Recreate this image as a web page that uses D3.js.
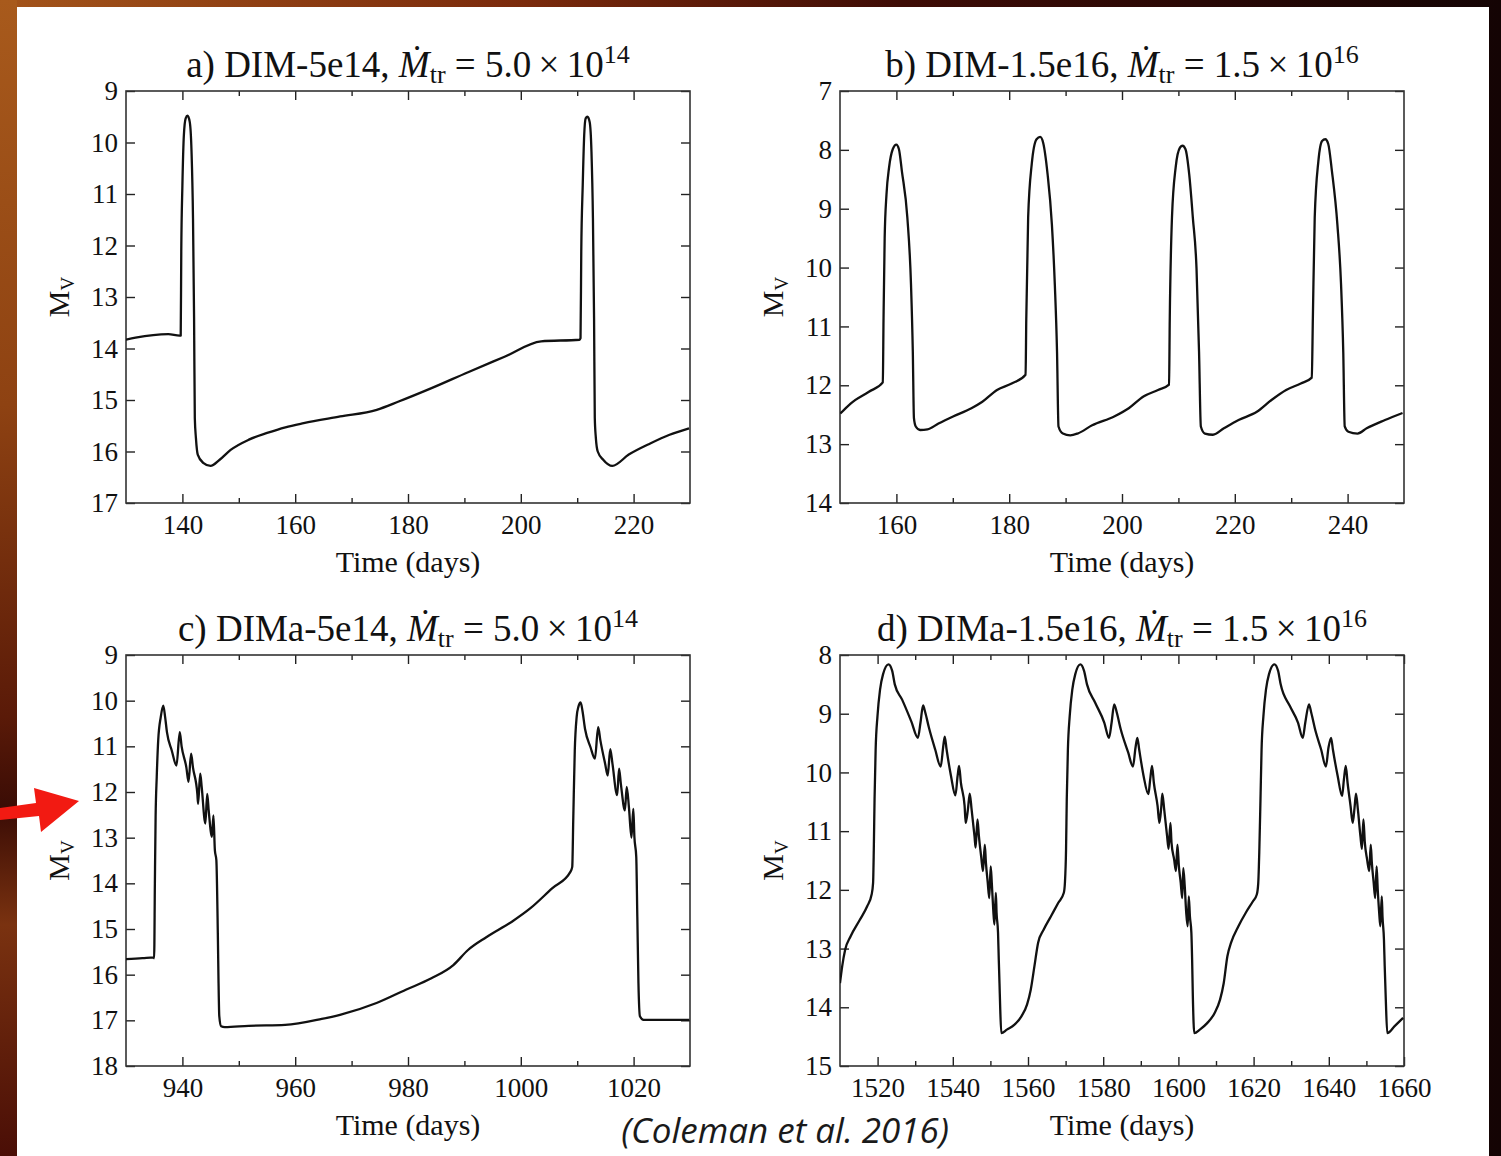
<!DOCTYPE html>
<html>
<head>
<meta charset="utf-8">
<script src="https://cdn.jsdelivr.net/npm/d3@7"></script>
<style>
  body { margin: 0; background: #000; }
  svg { display: block; }
</style>
</head>
<body>
<script>
// light curves: [time (days), M_V]
const lcA = [
  [130.0, 13.83], [131.7, 13.79], [137.5, 13.72], [139.5, 13.75], [139.7, 13.75],
  [139.8, 12.12], [140.0, 10.83], [140.26, 9.86], [140.58, 9.53], [140.91, 9.48],
  [141.3, 9.6], [141.62, 10.18], [141.88, 11.47], [142.07, 13.41], [142.2, 15.35],
  [142.4, 15.74], [142.72, 16.06], [143.69, 16.22], [144.99, 16.28], [146.61, 16.16],
  [148.55, 15.97], [151.79, 15.77], [155.02, 15.64], [158.26, 15.53], [161.5, 15.45],
  [167.98, 15.32], [174.46, 15.19], [178.34, 15.03], [184.17, 14.77], [190.65, 14.46],
  [197.12, 14.16], [203.6, 13.86], [210.4, 13.83], [210.59, 13.8], [210.72, 12.12],
  [210.98, 10.83], [211.24, 9.86], [211.5, 9.53], [211.82, 9.5], [212.21, 9.6],
  [212.53, 10.18], [212.79, 11.47], [212.99, 13.41], [213.12, 15.35], [213.31, 15.74],
  [213.64, 16.0], [214.61, 16.16], [216.23, 16.28], [219.14, 16.06], [223.03, 15.84],
  [226.27, 15.68], [229.83, 15.55]
];

const lcB = [
  [150.06, 12.48], [151.88, 12.31], [155.13, 12.11], [157.59, 11.95], [157.72, 10.86],
  [157.92, 9.5], [158.24, 8.76], [158.7, 8.3], [159.35, 7.99], [159.99, 7.91],
  [160.45, 7.99], [160.97, 8.36], [161.94, 9.15], [162.59, 10.29], [162.91, 11.43],
  [163.11, 12.56], [163.43, 12.7], [164.21, 12.76], [165.51, 12.75], [167.46, 12.65],
  [170.05, 12.53], [173.3, 12.39], [175.24, 12.28], [177.84, 12.08], [180.43, 11.97],
  [182.9, 11.82], [183.03, 10.86], [183.36, 9.15], [184.0, 8.24], [184.85, 7.82],
  [185.5, 7.78], [186.02, 7.88], [186.8, 8.41], [187.57, 9.27], [188.09, 10.29],
  [188.48, 11.43], [188.74, 12.7], [189.52, 12.82], [190.82, 12.85], [192.12, 12.82],
  [194.71, 12.68], [198.61, 12.53], [201.2, 12.39], [203.8, 12.19], [206.39, 12.08],
  [208.34, 11.99], [208.47, 10.86], [208.86, 9.15], [209.51, 8.3], [210.29, 7.96],
  [210.74, 7.93], [211.26, 7.99], [211.91, 8.41], [212.56, 9.15], [213.21, 10.01],
  [213.66, 11.43], [213.98, 12.7], [214.7, 12.82], [216.13, 12.84], [218.07, 12.73],
  [220.67, 12.59], [223.91, 12.45], [226.51, 12.25], [229.1, 12.08], [231.7, 11.97],
  [233.65, 11.87], [233.84, 10.86], [234.17, 9.15], [234.82, 8.19], [235.47, 7.85],
  [236.05, 7.82], [236.57, 7.9], [237.22, 8.36], [238.19, 9.27], [238.84, 10.29],
  [239.23, 11.43], [239.49, 12.7], [240.14, 12.79], [241.76, 12.82], [243.38, 12.73],
  [246.63, 12.59], [249.74, 12.47]
];

const lcC = [
  [930.0, 15.66], [932.92, 15.64], [934.86, 15.62], [934.99, 15.64], [935.12, 14.0],
  [935.25, 12.55], [935.45, 11.67], [935.71, 10.87], [936.16, 10.36], [936.61, 10.11],
  [936.94, 10.36], [937.26, 10.69], [938.11, 11.09], [938.95, 11.42], [939.53, 10.69],
  [939.86, 11.0], [940.7, 11.46], [941.09, 11.78], [941.54, 11.16], [941.87, 11.46],
  [942.65, 12.04], [942.78, 12.26], [943.16, 11.6], [943.42, 11.89], [944.07, 12.69],
  [944.4, 12.04], [944.66, 12.4], [945.24, 12.98], [945.5, 12.51], [945.76, 13.28],
  [946.02, 13.49], [946.28, 15.09], [946.41, 16.19], [946.54, 16.91], [946.86, 17.13],
  [947.51, 17.15], [951.73, 17.12], [958.21, 17.1], [964.7, 16.97], [967.94, 16.88],
  [974.42, 16.62], [979.61, 16.33], [984.15, 16.08], [988.04, 15.79], [990.64, 15.46],
  [993.88, 15.18], [998.42, 14.84], [1001.66, 14.55], [1005.55, 14.11], [1008.79, 13.75],
  [1009.12, 13.64], [1009.31, 12.55], [1009.57, 11.09], [1009.9, 10.36], [1010.22, 10.13],
  [1010.61, 10.04], [1010.93, 10.22], [1011.39, 10.62], [1012.36, 11.02], [1013.14, 11.27],
  [1013.72, 10.58], [1014.11, 10.87], [1014.95, 11.38], [1015.41, 11.64], [1015.86, 11.06],
  [1016.25, 11.38], [1017.09, 12.07], [1017.42, 11.49], [1017.74, 11.82], [1018.46, 12.4],
  [1018.78, 11.89], [1019.17, 12.33], [1019.62, 13.0], [1019.95, 12.37], [1020.14, 12.98],
  [1020.47, 13.42], [1020.66, 14.73], [1020.86, 16.19], [1021.12, 16.91], [1021.77, 16.99],
  [1023.06, 16.99], [1029.87, 16.99]
];

const lcD = [
  [1510.0, 13.59], [1510.59, 13.3], [1511.37, 13.02], [1512.83, 12.79], [1515.28, 12.51],
  [1517.23, 12.28], [1518.41, 12.08], [1518.8, 11.88], [1518.99, 11.31], [1519.19, 10.46],
  [1519.48, 9.61], [1519.97, 9.04], [1520.65, 8.59], [1521.44, 8.33], [1522.9, 8.16],
  [1523.88, 8.27], [1524.57, 8.5], [1526.52, 8.76], [1528.96, 9.13], [1530.72, 9.41],
  [1531.41, 9.15], [1532.09, 8.86], [1532.68, 8.98], [1533.66, 9.24], [1535.32, 9.61],
  [1536.78, 9.9], [1537.47, 9.55], [1537.86, 9.39], [1538.35, 9.61], [1539.52, 10.06],
  [1540.69, 10.39], [1541.28, 10.06], [1541.67, 9.89], [1542.16, 10.18], [1543.14, 10.57],
  [1543.43, 10.86], [1544.02, 10.63], [1544.51, 10.36], [1545.0, 10.63], [1545.78, 11.09],
  [1546.07, 11.28], [1546.56, 10.8], [1546.95, 11.09], [1547.54, 11.43], [1548.03, 11.68],
  [1548.51, 11.23], [1548.81, 11.54], [1549.3, 11.88], [1549.69, 12.14], [1550.08, 11.6],
  [1550.37, 11.88], [1550.76, 12.34], [1551.06, 12.59], [1551.45, 12.05], [1551.64, 12.39],
  [1552.03, 12.73], [1552.23, 13.19], [1552.42, 13.59], [1552.62, 14.04], [1552.91, 14.44],
  [1554.38, 14.38], [1556.33, 14.3], [1558.29, 14.15], [1559.76, 13.95], [1560.73, 13.7],
  [1561.71, 13.3], [1562.69, 12.9], [1564.15, 12.68], [1566.11, 12.45], [1568.06, 12.22],
  [1569.53, 12.05], [1569.82, 11.88], [1570.12, 11.31], [1570.31, 10.46], [1570.61, 9.61],
  [1571.09, 9.04], [1571.78, 8.59], [1572.56, 8.33], [1573.93, 8.16], [1574.91, 8.27],
  [1575.69, 8.5], [1577.84, 8.81], [1580.28, 9.15], [1581.55, 9.41], [1582.24, 9.15],
  [1582.92, 8.84], [1583.61, 8.98], [1584.68, 9.27], [1586.64, 9.66], [1587.91, 9.9],
  [1588.59, 9.58], [1589.08, 9.41], [1589.57, 9.61], [1590.74, 10.06], [1592.01, 10.37],
  [1592.5, 10.12], [1592.99, 9.89], [1593.48, 10.18], [1594.46, 10.57], [1594.95, 10.86],
  [1595.43, 10.6], [1595.73, 10.36], [1596.22, 10.63], [1597.0, 11.09], [1597.39, 11.3],
  [1597.88, 10.86], [1598.17, 11.2], [1598.86, 11.48], [1599.35, 11.68], [1599.74, 11.23],
  [1600.13, 11.6], [1600.62, 11.88], [1601.01, 12.14], [1601.3, 11.63], [1601.69, 11.94],
  [1602.08, 12.39], [1602.47, 12.62], [1602.77, 12.11], [1603.06, 12.45], [1603.45, 12.73],
  [1603.65, 13.19], [1603.84, 13.81], [1604.23, 14.44], [1605.7, 14.38], [1607.65, 14.27],
  [1609.61, 14.1], [1611.08, 13.87], [1612.05, 13.59], [1613.03, 13.13], [1614.01, 12.9],
  [1615.96, 12.62], [1617.92, 12.39], [1619.87, 12.19], [1620.85, 12.08], [1621.24, 11.88],
  [1621.53, 11.31], [1621.83, 10.46], [1622.12, 9.61], [1622.61, 9.04], [1623.29, 8.59],
  [1624.08, 8.33], [1625.54, 8.16], [1626.52, 8.27], [1627.2, 8.5], [1629.65, 8.87],
  [1631.8, 9.15], [1633.07, 9.41], [1633.75, 9.15], [1634.73, 8.84], [1635.32, 8.98],
  [1636.49, 9.3], [1637.96, 9.61], [1639.23, 9.9], [1639.91, 9.58], [1640.6, 9.41],
  [1641.09, 9.61], [1642.36, 10.06], [1643.53, 10.4], [1644.02, 10.12], [1644.51, 9.89],
  [1645.0, 10.18], [1645.78, 10.57], [1646.36, 10.86], [1646.85, 10.6], [1647.24, 10.36],
  [1647.73, 10.63], [1648.42, 11.09], [1648.81, 11.3], [1649.2, 10.8], [1649.59, 11.2],
  [1650.18, 11.48], [1650.76, 11.68], [1651.15, 11.23], [1651.45, 11.54], [1651.94, 11.88],
  [1652.33, 12.14], [1652.72, 11.6], [1653.01, 11.99], [1653.4, 12.39], [1653.7, 12.62],
  [1654.09, 12.11], [1654.28, 12.45], [1654.67, 12.85], [1654.87, 13.3], [1655.16, 13.87],
  [1655.55, 14.44], [1657.51, 14.32], [1659.76, 14.18]
];

// axes
const xTicksA = [140, 160, 180, 200, 220];
const xMinorA = [150, 170, 190, 210];
const xTicksB = [160, 180, 200, 220, 240];
const xMinorB = [170, 190, 210, 230];
const xTicksC = [940, 960, 980, 1000, 1020];
const xMinorC = [950, 970, 990, 1010];
const xTicksD = [1520, 1540, 1560, 1580, 1600, 1620, 1640, 1660];
const xMinorD = [1530, 1550, 1570, 1590, 1610, 1630, 1650];
const yTicksA = [9, 10, 11, 12, 13, 14, 15, 16, 17];
const yTicksB = [7, 8, 9, 10, 11, 12, 13, 14];
const yTicksC = [9, 10, 11, 12, 13, 14, 15, 16, 17, 18];
const yTicksD = [8, 9, 10, 11, 12, 13, 14, 15];

const titleNames = ["a) DIM-5e14, ", "b) DIM-1.5e16, ", "c) DIMa-5e14, ", "d) DIMa-1.5e16, "];
const titleCoefs = ["5.0", "1.5", "5.0", "1.5"];
const titleExps = ["14", "16", "14", "16"];

const W = 1501, H = 1156;
const serif = '"Liberation Serif", "DejaVu Serif", serif';

const panels = [
  { id: "a", data: lcA, xDomain: [130, 230], yDomain: [9, 17], xMajor: xTicksA, xMinor: xMinorA, yTicks: yTicksA, box: [126, 91, 690, 503] },
  { id: "b", data: lcB, xDomain: [150, 250], yDomain: [7, 14], xMajor: xTicksB, xMinor: xMinorB, yTicks: yTicksB, box: [840, 91, 1404, 503] },
  { id: "c", data: lcC, xDomain: [930, 1030], yDomain: [9, 18], xMajor: xTicksC, xMinor: xMinorC, yTicks: yTicksC, box: [126, 655, 690, 1066] },
  { id: "d", data: lcD, xDomain: [1510, 1660], yDomain: [8, 15], xMajor: xTicksD, xMinor: xMinorD, yTicks: yTicksD, box: [840, 655, 1404, 1066] },
];

const svg = d3.select("body").append("svg").attr("width", W).attr("height", H);
const defs = svg.append("defs");

// slide background
const bgH = defs.append("linearGradient").attr("id", "bgH").attr("x1", 0).attr("x2", 1).attr("y1", 0).attr("y2", 0);
[[0, "#a3541a"], [0.35, "#7a2a0c"], [0.6, "#3e0c06"], [1, "#140404"]].forEach(([o, c]) =>
  bgH.append("stop").attr("offset", o).attr("stop-color", c));
const bgV = defs.append("linearGradient").attr("id", "bgV").attr("x1", 0).attr("x2", 0).attr("y1", 0).attr("y2", 1);
[[0, "#a85a1c"], [0.35, "#8e4212"], [0.62, "#5a1a08"], [0.7, "#3a0c05"], [0.8, "#7a3210"], [1, "#4a0e06"]].forEach(([o, c]) =>
  bgV.append("stop").attr("offset", o).attr("stop-color", c));

svg.append("rect").attr("width", W).attr("height", H).attr("fill", "url(#bgH)");
svg.append("rect").attr("width", 17).attr("height", H).attr("fill", "url(#bgV)");
svg.append("rect").attr("x", 17).attr("y", 7).attr("width", 1472).attr("height", H - 7).attr("fill", "#fff");

panels.forEach((p, i) => drawPanel(p, i));

function drawPanel(p, i) {
  const [x0, y0, x1, y1] = p.box;
  const x = d3.scaleLinear().domain(p.xDomain).range([x0, x1]);
  const y = d3.scaleLinear().domain(p.yDomain).range([y0, y1]);
  const g = svg.append("g").attr("class", "panel-" + p.id);

  defs.append("clipPath").attr("id", "clip-" + p.id)
    .append("rect").attr("x", x0).attr("y", y0).attr("width", x1 - x0).attr("height", y1 - y0);

  const major = 9, minor = 5;

  g.append("g").attr("transform", `translate(0,${y1})`)
    .call(d3.axisBottom(x).tickValues(p.xMajor).tickSize(-major).tickPadding(12).tickFormat(d3.format("d")));
  g.append("g").attr("transform", `translate(0,${y1})`)
    .call(d3.axisBottom(x).tickValues(p.xMinor).tickSize(-minor).tickFormat(""));
  g.append("g").attr("transform", `translate(0,${y0})`)
    .call(d3.axisTop(x).tickValues(p.xMajor).tickSize(-major).tickFormat(""));
  g.append("g").attr("transform", `translate(0,${y0})`)
    .call(d3.axisTop(x).tickValues(p.xMinor).tickSize(-minor).tickFormat(""));
  g.append("g").attr("transform", `translate(${x0},0)`)
    .call(d3.axisLeft(y).tickValues(p.yTicks).tickSize(-major).tickPadding(8).tickFormat(d3.format("d")));
  g.append("g").attr("transform", `translate(${x1},0)`)
    .call(d3.axisRight(y).tickValues(p.yTicks).tickSize(-major).tickFormat(""));

  g.selectAll(".domain").remove();
  g.selectAll(".tick line").attr("stroke", "#222").attr("stroke-width", 1.4);
  g.selectAll(".tick text")
    .attr("font-family", serif).attr("font-size", 27).attr("fill", "#111");

  g.append("rect")
    .attr("x", x0).attr("y", y0).attr("width", x1 - x0).attr("height", y1 - y0)
    .attr("fill", "none").attr("stroke", "#333").attr("stroke-width", 1.6);

  const line = d3.line().x(d => x(d[0])).y(d => y(d[1])).curve(d3.curveMonotoneX);
  g.append("path")
    .datum(p.data)
    .attr("clip-path", `url(#clip-${p.id})`)
    .attr("d", line)
    .attr("fill", "none")
    .attr("stroke", "#111")
    .attr("stroke-width", 2.3)
    .attr("stroke-linejoin", "round");

  // title
  const t = g.append("text")
    .attr("x", (x0 + x1) / 2).attr("y", y0 - 14)
    .attr("text-anchor", "middle")
    .attr("font-family", serif).attr("font-size", 37).attr("fill", "#111");
  t.append("tspan").text(titleNames[i]);
  t.append("tspan").attr("font-style", "italic").text("\u1E40");
  t.append("tspan").attr("font-size", 26).attr("dy", 6).text("tr");
  t.append("tspan").attr("dy", -6).text(" = " + titleCoefs[i] + "\u2009\u00D7\u200910");
  t.append("tspan").attr("font-size", 26).attr("dy", -14).text(titleExps[i]);

  // x label
  g.append("text")
    .attr("x", (x0 + x1) / 2).attr("y", y1 + 69)
    .attr("text-anchor", "middle")
    .attr("font-family", serif).attr("font-size", 30).attr("fill", "#111")
    .text("Time (days)");

  // y label
  const yl = g.append("text")
    .attr("transform", `translate(${x0 - 57},${(y0 + y1) / 2}) rotate(-90)`)
    .attr("text-anchor", "middle")
    .attr("font-family", serif).attr("font-size", 30).attr("fill", "#111");
  yl.append("tspan").text("M");
  yl.append("tspan").attr("font-size", 19).attr("dy", 5).text("V");
}

// citation
svg.append("text")
  .attr("x", 785).attr("y", 1143)
  .attr("text-anchor", "middle")
  .attr("font-family", '"Open Sans", "Noto Sans", sans-serif')
  .attr("font-style", "italic")
  .attr("font-size", 35)
  .attr("fill", "#1a1a1a")
  .text("(Coleman et al. 2016)");

// red arrow pointing at panel c
svg.append("path")
  .attr("d", "M0,808 L36,803 L34,788 L79,801 L41,832 L39,816 L0,820 Z")
  .attr("fill", "#f21a12");
</script>
</body>
</html>
